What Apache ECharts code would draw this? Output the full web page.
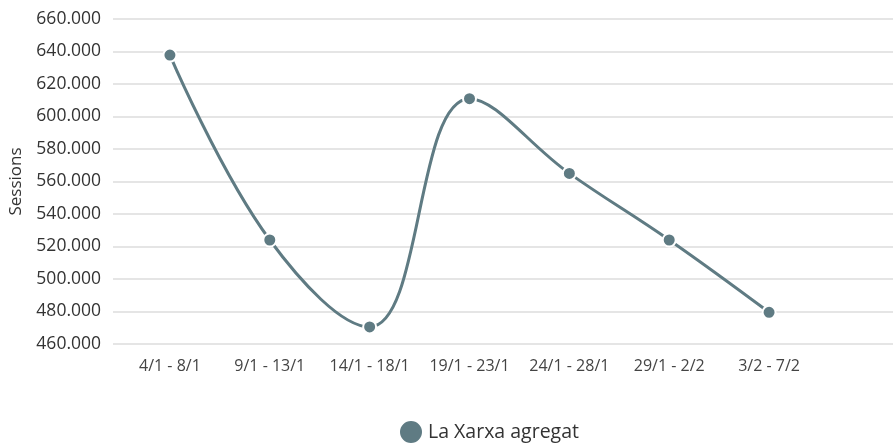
<!DOCTYPE html>
<html>
<head>
<meta charset="utf-8">
<script src="https://cdn.jsdelivr.net/npm/echarts@6/dist/echarts.min.js"></script>
<style>
  html, body { margin: 0; padding: 0; background: #fff; }
  #chart { width: 893px; height: 447px; }
</style>
</head>
<body>
<div id="chart"></div>
<script>
/* setmanes */
var weeks = ['4/1 - 8/1', '9/1 - 13/1', '14/1 - 18/1', '19/1 - 23/1', '24/1 - 28/1', '29/1 - 2/2', '3/2 - 7/2'];
// sessions La Xarxa agregat
var sessions = [637800, 524000, 470500, 611000, 565000, 524000, 479500];
var yMin = 460000;
var yMax = 660000;
var yStep = 20000;

function fmtThousands(v) {
  return String(v).replace(/\B(?=(\d{3})+(?!\d))/g, '.');
}

var myChart = echarts.init(document.getElementById('chart'));
var lineColor = '#5f7b83';
var font = 'Open Sans, Noto Sans, sans-serif';

var option = {
  animation: false,
  textStyle: { fontFamily: font },
  legend: {
    top: 414,
    left: 393,
    icon: 'circle',
    itemWidth: 24,
    itemHeight: 24,
    itemGap: 10,
    textStyle: { fontSize: 19.5, color: '#333', fontFamily: font },
    data: ['La Xarxa agregat']
  },
  grid: [
    // eix i línies de fons
    { left: 109, right: 0, top: 19, bottom: 103 },
    // sèrie
    { left: 120, right: 74, top: 19, bottom: 103 }
  ],
  xAxis: [
    { gridIndex: 0, type: 'category', data: weeks, show: false },
    {
      gridIndex: 1,
      type: 'category',
      boundaryGap: true,
      data: weeks,
      axisLine: { show: false },
      axisTick: { show: false },
      axisLabel: { interval: 0, fontSize: 16, color: '#444', margin: 14, fontFamily: font }
    }
  ],
  yAxis: [
    {
      gridIndex: 0,
      type: 'value',
      min: yMin,
      max: yMax,
      interval: yStep,
      name: 'Sessions',
      nameLocation: 'middle',
      nameGap: 88,
      nameTextStyle: { fontSize: 17, color: '#333', fontFamily: font },
      axisLine: { show: false },
      axisTick: { show: false },
      axisLabel: {
        fontSize: 17.5,
        color: '#333',
        margin: 12,
        fontFamily: font,
        formatter: fmtThousands
      },
      splitLine: { lineStyle: { color: '#dddddd', width: 1.5 } }
    },
    {
      gridIndex: 1,
      type: 'value',
      min: yMin,
      max: yMax,
      interval: yStep,
      show: false
    }
  ],
  series: [
    {
      name: 'La Xarxa agregat',
      type: 'line',
      xAxisIndex: 1,
      yAxisIndex: 1,
      data: sessions,
      smooth: 0.4,
      symbol: 'circle',
      symbolSize: 13,
      itemStyle: { color: lineColor, borderColor: '#fff', borderWidth: 2 },
      lineStyle: { color: lineColor, width: 3 }
    }
  ]
};

myChart.setOption(option);
</script>
</body>
</html>
